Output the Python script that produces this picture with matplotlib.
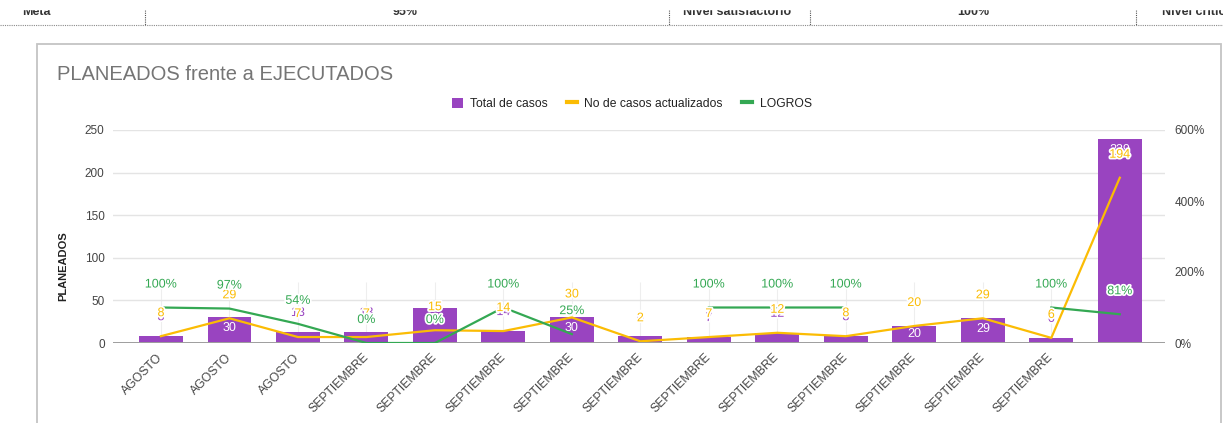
import matplotlib
matplotlib.use("Agg")
import matplotlib.pyplot as plt
import matplotlib.patheffects as pe
from matplotlib.lines import Line2D
from matplotlib.patches import Patch, Rectangle
import numpy as np

plt.rcParams["font.family"] = ["Liberation Sans", "DejaVu Sans"]

# data
months = ["AGOSTO", "AGOSTO", "AGOSTO", "SEPTIEMBRE", "SEPTIEMBRE", "SEPTIEMBRE",
          "SEPTIEMBRE", "SEPTIEMBRE", "SEPTIEMBRE", "SEPTIEMBRE", "SEPTIEMBRE",
          "SEPTIEMBRE", "SEPTIEMBRE", "SEPTIEMBRE", ""]
total_casos = [8, 30, 13, 13, 41, 14, 30, 8, 7, 12, 8, 20, 29, 6, 239]
actualizados = [8, 29, 7, 7, 15, 14, 30, 2, 7, 12, 8, 20, 29, 6, 194]
logros_pct = [100, 97, 54, 0, 0, 100, 25, np.nan, 100, 100, 100,
              np.nan, np.nan, 100, 81]

# spreadsheet row above the chart
sheet_cells = ["Meta", "95%", "Nivel satisfactorio", "100%", "Nivel crítico"]

PURPLE = "#9944c0"
YELLOW = "#fbbc04"
GREEN = "#34a853"

W, H = 1223, 423
fig = plt.figure(figsize=(W / 100, H / 100), dpi=100)


def fx(px):
    return px / W


def fy(py):
    return 1 - py / H


# --- spreadsheet strip on top ---
fig.add_artist(Line2D([0, 1], [fy(25), fy(25)], transform=fig.transFigure,
                      color="#8a8a8a", lw=0.8, ls=(0, (1, 1))))
for sx in [145, 669, 810, 1136]:
    fig.add_artist(Line2D([fx(sx), fx(sx)], [fy(10), fy(25)],
                          transform=fig.transFigure, color="#555555",
                          lw=0.8, ls=(0, (1, 1))))
cell_pos = [(22, "left"), (405, "center"), (683, "left"), (973, "center"),
            (1162, "left")]
for txt, (px, ha) in zip(sheet_cells, cell_pos):
    fig.text(fx(px), fy(15), txt, ha=ha, va="baseline", fontsize=9,
             fontweight="bold", color="#333333")
fig.add_artist(Rectangle((0, fy(9.5)), 1, fy(0) - fy(9.5),
                         transform=fig.transFigure, color="white", zorder=10))

# --- chart frame ---
fig.add_artist(Rectangle((fx(37), fy(445)), fx(1221) - fx(37), fy(44) - fy(445),
                         transform=fig.transFigure, fill=False,
                         ec="#c4c4c4", lw=1.3))

fig.text(fx(57), fy(75), "PLANEADOS frente a EJECUTADOS", va="center",
         fontsize=14.5, color="#757575")
fig.text(fx(63), fy(266), "PLANEADOS", rotation=90, ha="center", va="center",
         fontsize=8, fontweight="bold", color="#222222")

ax = fig.add_axes([fx(113), fy(343), fx(1165) - fx(113), fy(130) - fy(343)])
ax2 = ax.twinx()

x = np.arange(len(months))
ax.vlines(x[:-1], 0, 72, color="#eeeeee", lw=0.8, zorder=0)
ax.bar(x, total_casos, 0.64, color=PURPLE, zorder=2)
ax.plot(x, actualizados, color=YELLOW, lw=1.6, zorder=3)
ax2.plot(x, logros_pct, color=GREEN, lw=1.6, zorder=3)

ax.set_xlim(-0.7, 14.66)
ax.set_ylim(0, 250)
ax.set_yticks(range(0, 251, 50))
ax2.set_ylim(0, 600)
ax2.set_yticks([0, 200, 400, 600])
ax2.set_yticklabels(["0%", "200%", "400%", "600%"])

ax.yaxis.grid(True, color="#e4e4e4", lw=1)
ax.set_axisbelow(True)
ax.axhline(0, color="#9e9e9e", lw=1.4, zorder=4)
for a in (ax, ax2):
    for s in a.spines.values():
        s.set_visible(False)
ax.tick_params(axis="y", length=0, pad=6, labelsize=8.5, labelcolor="#444444")
ax2.tick_params(axis="y", length=0, pad=7, labelsize=8.5, labelcolor="#444444")
ax.set_xticks(x)
ax.set_xticklabels(months, rotation=45, ha="right", va="center",
                   rotation_mode="anchor", fontsize=8.8, color="#444444")
ax.tick_params(axis="x", length=0, pad=9)

# --- data labels ---
halo = [pe.withStroke(linewidth=2.5, foreground="white")]
px_per_unit = (343 - 130) / 250
for i, v in enumerate(total_casos):
    h_px = v * px_per_unit
    if v >= 18:
        ax2.annotate(str(v), xy=(i, v), xycoords=ax.transData,
                     xytext=(0, -min(11, h_px / 2)), textcoords="offset pixels",
                     ha="center", va="center", fontsize=9, color="white",
                     zorder=5)
    else:
        ax2.annotate(str(v), xy=(i, v), xycoords=ax.transData,
                     xytext=(0, 19), textcoords="offset pixels",
                     ha="center", va="center", fontsize=9, color=PURPLE,
                     path_effects=halo, zorder=5)
for i, v in enumerate(actualizados):
    ax2.annotate(str(v), xy=(i, v), xycoords=ax.transData,
                 xytext=(0, 23), textcoords="offset pixels",
                 ha="center", va="center", fontsize=9, color=YELLOW,
                 path_effects=halo, zorder=6)
for i, v in enumerate(logros_pct):
    if np.isnan(v):
        continue
    ax2.annotate(f"{v:.0f}%", xy=(i, v), xycoords=ax2.transData,
                 xytext=(0, 23), textcoords="offset pixels",
                 ha="center", va="center", fontsize=9, color=GREEN,
                 path_effects=halo, zorder=7)

handles = [Patch(facecolor=PURPLE, edgecolor="none"),
           Line2D([], [], color=YELLOW, lw=3),
           Line2D([], [], color=GREEN, lw=3)]
fig.legend(handles, ["Total de casos", "No de casos actualizados", "LOGROS"],
           loc="center", bbox_to_anchor=(fx(632), fy(104)), ncol=3,
           frameon=False, fontsize=8.7, handlelength=0.85, handleheight=0.85,
           handletextpad=0.6, columnspacing=1.6, labelcolor="#222222")

fig.savefig("out.png", dpi=100)
